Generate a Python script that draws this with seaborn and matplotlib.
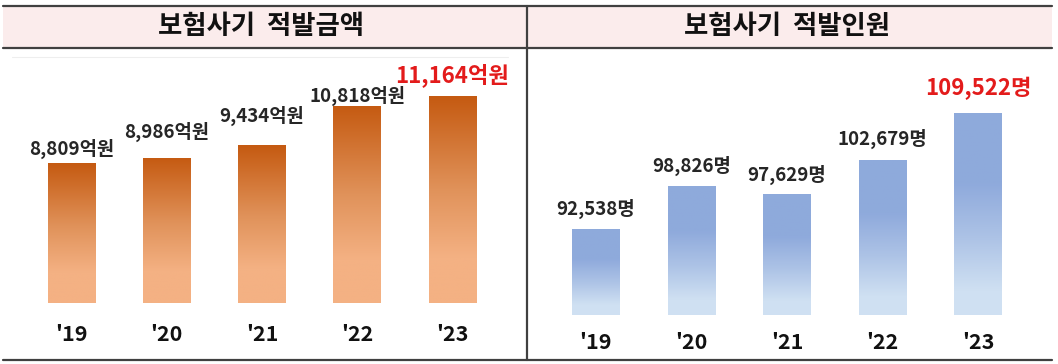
import numpy as np
import pandas as pd
import seaborn as sns
import matplotlib.pyplot as plt
from matplotlib.colors import LinearSegmentedColormap
from matplotlib.lines import Line2D
from matplotlib.patches import Rectangle

# data
years = ["'19", "'20", "'21", "'22", "'23"]
amount = [8809, 8986, 9434, 10818, 11164]        # 억원
people = [92538, 98826, 97629, 102679, 109522]   # 명
amount_labels = ["8,809억원", "8,986억원", "9,434억원", "10,818억원", "11,164억원"]
people_labels = ["92,538명", "98,826명", "97,629명", "102,679명", "109,522명"]
titles = ["보험사기  적발금액", "보험사기  적발인원"]

sns.set_theme(style="white")
plt.rcParams['font.family'] = ['Noto Sans CJK KR', 'DejaVu Sans']

W, H = 1058, 364
fig = plt.figure(figsize=(W / 100, H / 100), dpi=100)
fig.patch.set_facecolor("white")


def fx(x):
    return x / W


def fy(y):
    return 1 - y / H


def px_axes(x0, y0, x1, y1):
    return fig.add_axes([fx(x0), fy(y1), fx(x1) - fx(x0), fy(y0) - fy(y1)])


# header band and frame lines
fig.add_artist(Rectangle((fx(3), fy(48)), fx(1052) - fx(3), fy(6) - fy(48),
                         transform=fig.transFigure, facecolor="#fbecec", edgecolor="none", zorder=0))
line_kw = dict(transform=fig.transFigure, color="#404040", lw=1.6, zorder=5)
fig.add_artist(Line2D([fx(3), fx(1052)], [fy(6), fy(6)], **line_kw))
fig.add_artist(Line2D([fx(3), fx(1052)], [fy(48), fy(48)], **line_kw))
fig.add_artist(Line2D([fx(3), fx(1052)], [fy(360), fy(360)], **line_kw))
fig.add_artist(Line2D([fx(527), fx(527)], [fy(6), fy(360)], **line_kw))
fig.add_artist(Line2D([fx(12), fx(508)], [fy(57), fy(57)], transform=fig.transFigure,
                      color="#eeeeee", lw=0.8))

fig.text(fx(261), fy(27), titles[0], ha="center", va="center", fontsize=19,
         fontweight="bold", color="#111111")
fig.text(fx(787), fy(27), titles[1], ha="center", va="center", fontsize=19,
         fontweight="bold", color="#111111")

orange = LinearSegmentedColormap.from_list(
    "org", [(0, "#c55a11"), (0.45, "#e0925a"), (0.78, "#f4b183"), (1, "#f4b183")])
blue = LinearSegmentedColormap.from_list(
    "blu", [(0, "#8eaadb"), (0.35, "#8faadc"), (0.62, "#adc3e6"), (0.88, "#cfe0f2"), (1, "#d0e1f3")])


def draw_panel(ax, values, labels, cmap, ylim, pads, red_pad, tick_pad):
    df = pd.DataFrame({"year": years, "value": values})
    sns.barplot(data=df, x="year", y="value", ax=ax, width=0.5, color="#cccccc")
    ax.set_xlim(-0.5, len(years) - 0.5)
    ax.set_ylim(*ylim)
    grad = np.linspace(0, 1, 256).reshape(-1, 1)
    for bar in ax.patches:
        x0, w = bar.get_x(), bar.get_width()
        top = bar.get_y() + bar.get_height()
        bottom = max(bar.get_y(), ylim[0])
        bar.set_facecolor("none")
        bar.set_edgecolor("none")
        im = ax.imshow(grad, cmap=cmap, aspect="auto", extent=[x0, x0 + w, bottom, top],
                       origin="upper", zorder=2)
        im.set_clip_path(bar)
    ax.set_xlim(-0.5, len(years) - 0.5)
    ax.set_ylim(*ylim)
    for i, (v, lab) in enumerate(zip(values, labels)):
        last = i == len(values) - 1
        ax.annotate(lab, (i, v), xytext=(0, red_pad if last else pads[i]),
                    textcoords="offset points", ha="center", va="baseline",
                    fontsize=16 if last else 13.5, fontweight="bold",
                    color="#e31b1b" if last else "#262626", annotation_clip=False)
    ax.set_xlabel("")
    ax.set_ylabel("")
    ax.set_yticks([])
    ax.tick_params(axis="x", length=0, pad=tick_pad, labelsize=15.5)
    for t in ax.get_xticklabels():
        t.set_fontweight("bold")
        t.set_color("#111111")
    sns.despine(ax=ax, left=True, bottom=True)
    ax.patch.set_alpha(0)


axL = px_axes(23.7, 60, 500, 303)
draw_panel(axL, amount, amount_labels, orange, (3890, 12430),
           pads=[5.8, 14.4, 16.6, 3.0], red_pad=10, tick_pad=15)

axR = px_axes(548, 60, 1026, 315)
draw_panel(axR, people, people_labels, blue, (79950, 117290),
           pads=[10, 10, 10, 10.5], red_pad=13, tick_pad=12)

fig.savefig("out.png", dpi=100)
